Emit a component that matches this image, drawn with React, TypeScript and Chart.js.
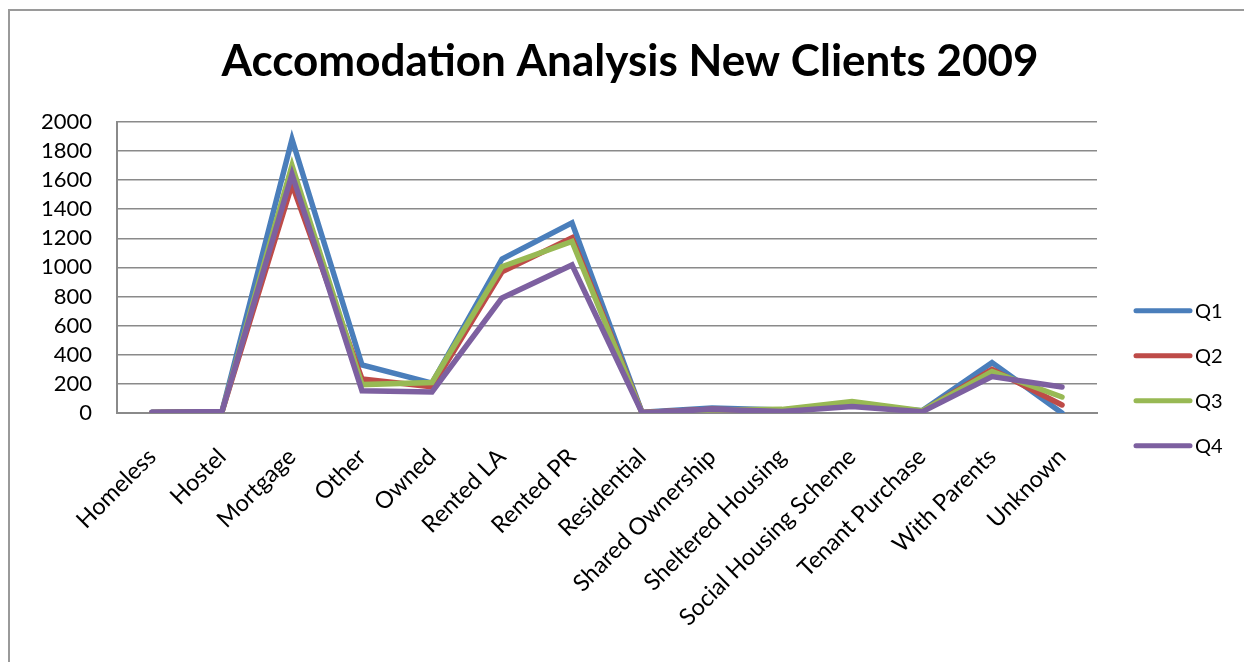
import React, { useEffect, useRef } from "react";
import { Chart, registerables } from "chart.js";

Chart.register(...registerables);

const categories = [
  "Homeless",
  "Hostel",
  "Mortgage",
  "Other",
  "Owned",
  "Rented LA",
  "Rented PR",
  "Residential",
  "Shared Ownership",
  "Sheltered Housing",
  "Social Housing Scheme",
  "Tenant Purchase",
  "With Parents",
  "Unknown",
];

const q1 = [5, 10, 1880, 330, 205, 1058, 1306, 5, 35, 20, 55, 15, 346, 0];
const q2 = [3, 8, 1570, 234, 180, 970, 1203, 3, 25, 15, 60, 12, 300, 55];
const q3 = [4, 9, 1700, 195, 210, 1005, 1178, 2, 20, 25, 78, 15, 285, 110];
const q4 = [5, 10, 1640, 152, 145, 790, 1017, 2, 25, 10, 45, 8, 250, 178];

const seriesNames = ["Q1", "Q2", "Q3", "Q4"];
const seriesColors = ["#4A7EBB", "#BE4B48", "#98B954", "#7D60A0"];

const yTicks = [0, 200, 400, 600, 800, 1000, 1200, 1400, 1600, 1800, 2000];

const FONT = "Lato, 'Open Sans', sans-serif";

const legendPlugin = {
  id: "sideLegend",
  afterDraw(chart: any) {
    const { ctx, chartArea } = chart;
    ctx.save();
    chart.data.datasets.forEach((ds: any, i: number) => {
      const y = chartArea.top + 189 + i * 45;
      const x0 = chartArea.right + 39;
      ctx.strokeStyle = ds.borderColor;
      ctx.lineWidth = 5;
      ctx.lineCap = "round";
      ctx.beginPath();
      ctx.moveTo(x0, y);
      ctx.lineTo(x0 + 54, y);
      ctx.stroke();
      ctx.fillStyle = "#000";
      ctx.font = `20px ${FONT}`;
      ctx.textBaseline = "middle";
      ctx.textAlign = "left";
      ctx.fillText(ds.label, x0 + 59, y + 1);
    });
    ctx.restore();
  },
};

export default function App() {
  const ref = useRef<HTMLCanvasElement>(null);
  useEffect(() => {
    if (!ref.current) return;
    const data = [q1, q2, q3, q4];
    const chart = new Chart(ref.current, {
      type: "line",
      data: {
        labels: categories,
        datasets: data.map((d, i) => ({
          label: seriesNames[i],
          data: d,
          borderColor: seriesColors[i],
          backgroundColor: seriesColors[i],
          borderWidth: 5.5,
          pointRadius: 0,
          borderCapStyle: "round" as const,
          borderJoinStyle: "miter" as const,
          tension: 0,
          order: 4 - i,
          yAxisID: "y",
        })),
      },
      options: {
        responsive: false,
        animation: false,
        layout: { padding: { left: 16, right: 0, top: 0, bottom: 0 } },
        plugins: {
          legend: { display: false },
          tooltip: { enabled: false },
          title: {
            display: true,
            text: "Accomodation Analysis New Clients 2009",
            color: "#000",
            font: { family: FONT, size: 44, weight: "bold" },
            padding: { top: 35, bottom: 34 },
          },
        },
        scales: {
          x: {
            type: "category",
            offset: true,
            grid: { display: false, drawTicks: false },
            border: { display: true, color: "#8a8a8a", width: 2 },
            ticks: {
              color: "#000",
              font: { family: FONT, size: 23.5 },
              minRotation: 45,
              maxRotation: 45,
              autoSkip: false,
              padding: 30,
            },
            afterFit: (s: any) => {
              s.height = 249;
            },
          },
          y: {
            min: 0,
            max: 2000,
            afterBuildTicks: (s: any) => {
              s.ticks = yTicks.map((v) => ({ value: v }));
            },
            grid: { color: "#8a8a8a", lineWidth: 1.5, drawTicks: false },
            border: { display: true, color: "#8a8a8a", width: 2 },
            ticks: {
              color: "#000",
              font: { family: FONT, size: 22 },
              padding: 25,
              autoSkip: false,
              callback: (v: any) => String(v),
            },
            afterFit: (s: any) => {
              s.width = 101;
            },
          },
          y2: {
            position: "right",
            display: true,
            grid: { display: false, drawTicks: false },
            border: { display: false },
            ticks: { display: false },
            afterFit: (s: any) => {
              s.width = 147;
            },
          },
        },
      },
      plugins: [legendPlugin],
    });
    return () => chart.destroy();
  }, []);
  return (
    <div style={{ position: "fixed", left: 0, top: 0, width: 1244, height: 662, background: "#fff" }}>
      <div
        style={{
          position: "absolute",
          left: 8,
          top: 9,
          width: 1300,
          height: 700,
          border: "2px solid #9a9a9a",
        }}
      />
      <canvas ref={ref} width={1244} height={662} style={{ position: "absolute", left: 0, top: 0 }} />
    </div>
  );
}
